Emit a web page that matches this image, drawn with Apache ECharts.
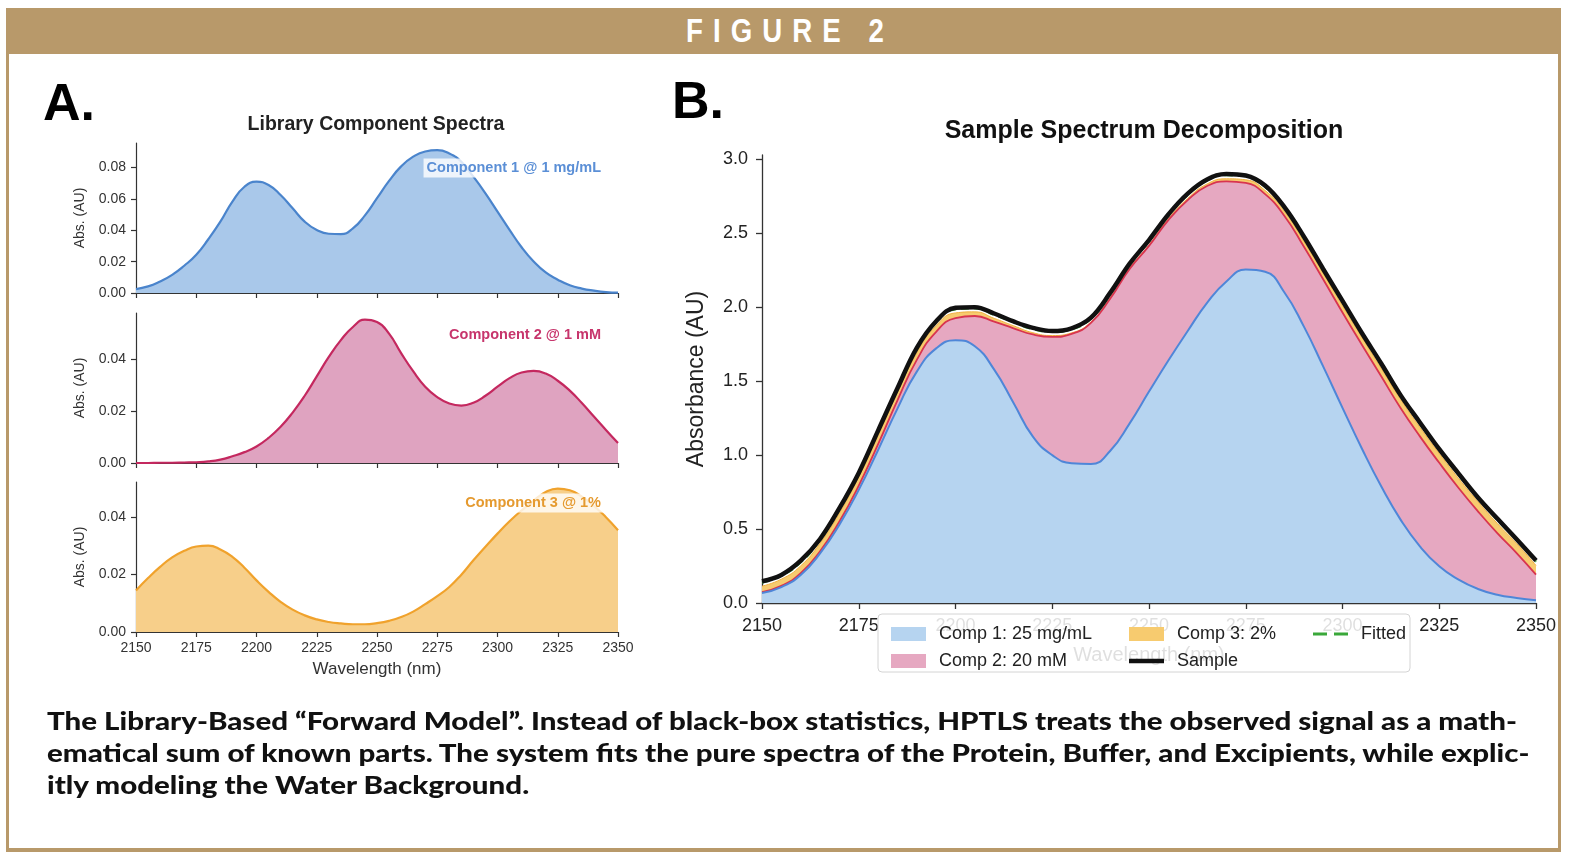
<!DOCTYPE html>
<html>
<head>
<meta charset="utf-8">
<script src="https://cdn.jsdelivr.net/npm/echarts@6/dist/echarts.min.js"></script>
<style>
html,body{margin:0;padding:0;background:#fff;width:1576px;height:862px;overflow:hidden;}
#frame{position:absolute;left:6px;top:8px;width:1549px;height:840px;border:3px solid #b8996a;border-top:none;border-bottom-width:4px;}
#bar{position:absolute;left:6px;top:8px;width:1555px;height:46px;background:#b8996a;text-align:center;}
#bartext{position:absolute;top:6px;left:0;white-space:nowrap;color:#fff;font:600 33px 'Liberation Sans Narrow','Liberation Sans',sans-serif;letter-spacing:12px;line-height:34px;transform-origin:0 0;}
#chart{position:absolute;left:0;top:0;width:1576px;height:862px;}
#caption{position:absolute;left:47px;top:704px;color:#111;font:900 25px Lato,'Liberation Sans',sans-serif;line-height:32px;white-space:nowrap;transform-origin:0 0;}
#caption span{display:inline-block;}
</style>
</head>
<body>
<div id="frame"></div>
<div id="bar"><span id="bartext">FIGURE 2</span></div>
<div id="chart"></div>
<div id="caption">
<div><span id="cl1">The Library-Based “Forward Model”. Instead of black-box statistics, HPTLS treats the observed signal as a math-</span></div>
<div><span>ematical sum of known parts. The system fits the pure spectra of the Protein, Buffer, and Excipients, while explic-</span></div>
<div><span>itly modeling the Water Background.</span></div>
</div>
<script>
// ---------------- DATA ----------------
const wavelengths = [2150,2155,2160,2165,2170,2175,2180,2185,2190,2195,2200,2205,2210,2215,2220,2225,2230,2235,2240,2245,2250,2255,2260,2265,2270,2275,2280,2285,2290,2295,2300,2305,2310,2315,2320,2325,2330,2335,2340,2345,2350];

// Panel A: library spectra (Abs, AU)
const comp1Lib = [0.0025,0.0042,0.0074,0.0116,0.0174,0.0244,0.0343,0.0455,0.0583,0.0678,0.0710,0.0689,0.0625,0.0540,0.0455,0.0402,0.0378,0.0376,0.0412,0.0495,0.0605,0.0715,0.0808,0.0870,0.0903,0.0911,0.0890,0.0837,0.0742,0.0636,0.0519,0.0403,0.0292,0.0201,0.0131,0.0085,0.0049,0.0028,0.0015,0.0006,0.0002];
const comp2Lib = [0.0000,0.0000,0.0001,0.0001,0.0002,0.0003,0.0006,0.0013,0.0026,0.0042,0.0064,0.0097,0.0140,0.0195,0.0260,0.0335,0.0410,0.0475,0.0526,0.0554,0.0545,0.0500,0.0425,0.0355,0.0295,0.0255,0.0230,0.0222,0.0233,0.0260,0.0295,0.0328,0.0350,0.0356,0.0346,0.0318,0.0280,0.0232,0.0180,0.0128,0.0077];
const comp3Lib = [0.0145,0.0188,0.0227,0.0260,0.0283,0.0298,0.0301,0.0288,0.0262,0.0224,0.0180,0.0140,0.0105,0.0078,0.0058,0.0044,0.0035,0.0030,0.0027,0.0027,0.0031,0.0039,0.0052,0.0071,0.0097,0.0125,0.0157,0.0200,0.0250,0.0297,0.0343,0.0386,0.0424,0.0458,0.0488,0.0500,0.0494,0.0472,0.0440,0.0400,0.0355];

// Panel B: decomposition layers (each layer's own contribution)
const comp1Fit = [0.068,0.108,0.190,0.335,0.530,0.765,1.035,1.315,1.565,1.722,1.777,1.736,1.578,1.353,1.125,1.000,0.945,0.940,1.030,1.215,1.430,1.640,1.840,2.030,2.175,2.255,2.240,2.100,1.871,1.600,1.320,1.045,0.789,0.564,0.383,0.248,0.158,0.095,0.056,0.034,0.018];
const comp2Fit = [0.006,0.008,0.011,0.015,0.021,0.029,0.040,0.056,0.079,0.112,0.150,0.205,0.325,0.505,0.691,0.800,0.875,0.955,1.030,1.045,0.985,0.950,0.885,0.790,0.677,0.586,0.525,0.518,0.540,0.590,0.645,0.702,0.744,0.755,0.744,0.700,0.620,0.525,0.417,0.304,0.174];
const comp3Fit = [0.040,0.045,0.050,0.054,0.057,0.058,0.057,0.053,0.048,0.042,0.035,0.028,0.022,0.017,0.012,0.009,0.007,0.006,0.006,0.006,0.007,0.009,0.011,0.014,0.017,0.021,0.025,0.030,0.035,0.040,0.045,0.050,0.054,0.058,0.061,0.063,0.064,0.065,0.065,0.064,0.062];
const fittedAbs = [0.139,0.186,0.276,0.429,0.633,0.877,1.157,1.449,1.717,1.901,1.987,1.994,1.950,1.900,1.853,1.834,1.852,1.926,2.091,2.291,2.447,2.624,2.761,2.859,2.894,2.887,2.815,2.673,2.471,2.255,2.035,1.822,1.612,1.402,1.213,1.036,0.867,0.710,0.563,0.427,0.279];
const sampleAbs = [0.147,0.190,0.286,0.433,0.641,0.880,1.166,1.452,1.726,1.906,1.997,2.001,1.958,1.904,1.861,1.839,1.858,1.930,2.099,2.295,2.455,2.628,2.769,2.864,2.902,2.891,2.823,2.677,2.479,2.259,2.043,1.826,1.620,1.406,1.221,1.040,0.875,0.714,0.571,0.431,0.287];

// Tick labels
const xTicks = [2150,2175,2200,2225,2250,2275,2300,2325,2350];
const yTicksA1 = [0,0.02,0.04,0.06,0.08];
const yTicksA2 = [0,0.02,0.04];
const yTicksA3 = [0,0.02,0.04];
const yTicksB = [0,0.5,1.0,1.5,2.0,2.5,3.0];

// ---------------- CHART ----------------
const FONT = "'Liberation Sans', Arial, sans-serif";
const pairs = ys => wavelengths.map((w, i) => [w, ys[i]]);
// cumulative layer tops for the stacked decomposition (fill_between style)
const top1 = comp1Fit.slice();
const top2 = comp1Fit.map((v, i) => v + comp2Fit[i]);
const top3 = top2.map((v, i) => v + comp3Fit[i]);

const chart = echarts.init(document.getElementById('chart'), null, {renderer: 'canvas'});

const gridsA = [
  {left: 136, top: 143, width: 482, height: 150},
  {left: 136, top: 313, width: 482, height: 150},
  {left: 136, top: 482, width: 482, height: 150}
];
const gridB = {left: 762, top: 155, width: 774, height: 448};

function xAxisA(idx, showLabels) {
  return {
    type: 'value', gridIndex: idx, min: 2150, max: 2350, interval: 25,
    axisLine: {show: true, onZero: false, lineStyle: {color: '#333', width: 1.2}},
    axisTick: {show: true, length: 5, customValues: xTicks, lineStyle: {color: '#333', width: 1.2}},
    axisLabel: {show: showLabels, customValues: xTicks, margin: 9, fontSize: 14, color: '#333', fontFamily: FONT,
      formatter: v => String(v)},
    splitLine: {show: false},
    name: showLabels ? 'Wavelength (nm)' : '', nameLocation: 'middle', nameGap: 29,
    nameTextStyle: {fontSize: 17, color: '#333', fontFamily: FONT}
  };
}
function yAxisA(idx, max, ticks) {
  return {
    type: 'value', gridIndex: idx, min: 0, max: max, interval: 0.02,
    axisLine: {show: true, lineStyle: {color: '#333', width: 1.2}},
    axisTick: {show: true, length: 5, customValues: ticks, lineStyle: {color: '#333', width: 1.2}},
    axisLabel: {customValues: ticks, margin: 10, fontSize: 14, color: '#333', fontFamily: FONT,
      formatter: v => v.toFixed(2)},
    splitLine: {show: false},
    name: 'Abs. (AU)', nameLocation: 'middle', nameRotate: 90, nameGap: 49,
    nameTextStyle: {fontSize: 14, color: '#333', fontFamily: FONT}
  };
}

function areaLine(name, xi, data, line, fill, width) {
  return {
    name: name, type: 'line', xAxisIndex: xi, yAxisIndex: xi, data: pairs(data),
    smooth: 0.5, symbol: 'none', silent: true,
    lineStyle: {color: line, width: width},
    itemStyle: {color: fill},
    areaStyle: {color: fill, opacity: 1}
  };
}

const legendCommon = {
  orient: 'vertical', top: 620, itemWidth: 35, itemHeight: 14, itemGap: 9,
  selectedMode: false, z: 120,
  itemStyle: {borderWidth: 0},
  textStyle: {fontSize: 18, color: '#222', fontFamily: FONT, lineHeight: 18, padding: [0, 0, 0, 8]}
};

const option = {
  animation: false,
  backgroundColor: 'transparent',
  grid: [...gridsA, gridB],
  xAxis: [
    xAxisA(0, false), xAxisA(1, false), xAxisA(2, true),
    {
      type: 'value', gridIndex: 3, min: 2150, max: 2350, interval: 25,
      axisLine: {show: true, onZero: false, lineStyle: {color: '#333', width: 1.3}},
      axisTick: {show: true, length: 6, customValues: xTicks, lineStyle: {color: '#333', width: 1.3}},
      axisLabel: {customValues: xTicks, margin: 14, fontSize: 18, color: '#222', fontFamily: FONT,
        formatter: v => String(v)},
      splitLine: {show: false},
      name: 'Wavelength (nm)', nameLocation: 'middle', nameGap: 42,
      nameTextStyle: {fontSize: 20, color: '#222', fontFamily: FONT}
    }
  ],
  yAxis: [
    yAxisA(0, 0.0957, yTicksA1), yAxisA(1, 0.058, yTicksA2), yAxisA(2, 0.0523, yTicksA3),
    {
      type: 'value', gridIndex: 3, min: 0, max: 3.03, interval: 0.5,
      axisLine: {show: true, lineStyle: {color: '#333', width: 1.3}},
      axisTick: {show: true, length: 6, customValues: yTicksB, lineStyle: {color: '#333', width: 1.3}},
      axisLabel: {customValues: yTicksB, margin: 14, fontSize: 18, color: '#222', fontFamily: FONT,
        formatter: v => v.toFixed(1)},
      splitLine: {show: false},
      name: 'Absorbance (AU)', nameLocation: 'middle', nameRotate: 90, nameGap: 54,
      nameTextStyle: {fontSize: 23, color: '#222', fontFamily: FONT}
    }
  ],
  legend: [
    Object.assign({}, legendCommon, {left: 886, data: [
      {name: 'Comp 1: 25 mg/mL', icon: 'rect', itemStyle: {color: '#b6d4f0'}},
      {name: 'Comp 2: 20 mM', icon: 'rect', itemStyle: {color: '#e6a8c1'}}
    ]}),
    Object.assign({}, legendCommon, {left: 1124, data: [
      {name: 'Comp 3: 2%', icon: 'rect', itemStyle: {color: '#f7cb6f'}},
      {name: 'Sample', icon: 'path://M0,0 L36,0 L36,4.5 L0,4.5 Z', itemStyle: {color: '#111'}}
    ]}),
    Object.assign({}, legendCommon, {left: 1308, data: [
      {name: 'Fitted', icon: 'path://M0,0 L14,0 L14,3 L0,3 Z M21,0 L35,0 L35,3 L21,3 Z', itemStyle: {color: '#3aa83a'}}
    ]})
  ],
  series: [
    areaLine('Component 1', 0, comp1Lib, '#4a84cc', '#a9c8ea', 2.2),
    areaLine('Component 2', 1, comp2Lib, '#c4285f', '#dfa3c0', 2.2),
    areaLine('Component 3', 2, comp3Lib, '#f0a22c', '#f7cf8a', 2.2),
    // decomposition: drawn top layer first, each filled down to zero
    areaLine('Comp 3: 2%', 3, top3, '#f0b040', '#f7cb6f', 1),
    areaLine('Comp 2: 20 mM', 3, top2, '#d8344f', '#e6a8c1', 1.8),
    areaLine('Comp 1: 25 mg/mL', 3, top1, '#4f86d8', '#b6d4f0', 2),
    {
      name: 'Fitted', type: 'line', xAxisIndex: 3, yAxisIndex: 3, data: pairs(fittedAbs),
      smooth: 0.5, symbol: 'none', silent: true, z: 3,
      itemStyle: {color: '#3aa83a'},
      lineStyle: {color: '#3aa83a', width: 2.5, type: [8, 5]}
    },
    {
      name: 'Sample', type: 'line', xAxisIndex: 3, yAxisIndex: 3, data: pairs(sampleAbs),
      smooth: 0.4, symbol: 'none', silent: true, z: 4,
      itemStyle: {color: '#111'},
      lineStyle: {color: '#111', width: 4.5}
    }
  ],
  graphic: {elements: [
    {type: 'text', x: 43, y: 106, z: 100, style: {text: 'A.', align: 'left', verticalAlign: 'middle', textAlign: 'left', textVerticalAlign: 'middle', font: "bold 52px " + FONT, fill: '#000'}},
    {type: 'text', x: 672, y: 104, z: 100, style: {text: 'B.', align: 'left', verticalAlign: 'middle', textAlign: 'left', textVerticalAlign: 'middle', font: "bold 52px " + FONT, fill: '#000'}},
    {type: 'text', x: 376, y: 125, z: 100, style: {text: 'Library Component Spectra', align: 'center', verticalAlign: 'middle', textAlign: 'center', textVerticalAlign: 'middle', font: "bold 19.5px " + FONT, fill: '#222'}},
    {type: 'text', x: 1144, y: 131, z: 100, style: {text: 'Sample Spectrum Decomposition', align: 'center', verticalAlign: 'middle', textAlign: 'center', textVerticalAlign: 'middle', font: "bold 25px " + FONT, fill: '#111'}},
    {type: 'text', x: 603, y: 168, z: 100, style: {text: 'Component 1 @ 1 mg/mL', align: 'right', verticalAlign: 'middle', textAlign: 'right', textVerticalAlign: 'middle', font: "bold 14.5px " + FONT, fill: '#5b8fd6', backgroundColor: 'rgba(255,255,255,0.8)', padding: [2, 2, 2, 3]}},
    {type: 'text', x: 603, y: 335, z: 100, style: {text: 'Component 2 @ 1 mM', align: 'right', verticalAlign: 'middle', textAlign: 'right', textVerticalAlign: 'middle', font: "bold 14.5px " + FONT, fill: '#c7356c', backgroundColor: 'rgba(255,255,255,0.8)', padding: [2, 2, 2, 3]}},
    {type: 'text', x: 603, y: 503, z: 100, style: {text: 'Component 3 @ 1%', align: 'right', verticalAlign: 'middle', textAlign: 'right', textVerticalAlign: 'middle', font: "bold 14.5px " + FONT, fill: '#e59a2f', backgroundColor: 'rgba(255,255,255,0.8)', padding: [2, 2, 2, 3]}},
    {type: 'rect', z: 110, shape: {x: 878, y: 614, width: 532, height: 58, r: 4}, style: {fill: 'rgba(255,255,255,0.86)', stroke: '#d4d4d4', lineWidth: 1}}
  ]}
};
chart.setOption(option);

// Fit the HTML title / caption text to the reference widths
(function () {
  const l1 = document.getElementById('cl1');
  const w = l1.getBoundingClientRect().width;
  document.getElementById('caption').style.transform = 'scaleX(' + (1470 / w) + ')';
  const t = document.getElementById('bartext');
  const tw = t.getBoundingClientRect().width - 12;
  const s = 198 / tw;
  t.style.transform = 'scaleX(' + s + ')';
  t.style.left = (785 - 6 - 99) + 'px';
})();
</script>
</body>
</html>
